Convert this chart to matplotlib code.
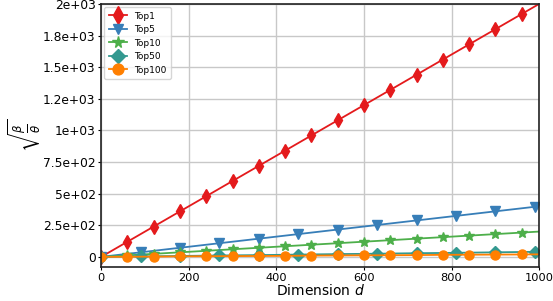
import matplotlib
matplotlib.use('Agg')
import matplotlib.pyplot as plt
from matplotlib.ticker import FuncFormatter

# values (markers), last point is the line end at d=1000
x60 = [0, 60, 120, 180, 240, 300, 360, 420, 480, 540, 600, 660, 720, 780, 840, 900, 960, 1000]
x90 = [0, 90, 180, 270, 360, 450, 540, 630, 720, 810, 900, 990, 1000]

top1 = [0, 120, 240, 360, 480, 600, 720, 840, 960, 1080, 1200, 1320, 1440, 1560, 1680, 1800, 1920, 2000]
top5 = [0, 36, 72, 108, 144, 180, 216, 252, 288, 324, 360, 396, 400]
top10 = [0, 12, 24, 36, 48, 60, 72, 84, 96, 108, 120, 132, 144, 156, 168, 180, 192, 200]
top50 = [0, 4, 7, 11, 14, 18, 22, 25, 29, 32, 36, 40, 40]
top100 = [0, 1, 2, 4, 5, 6, 7, 8, 10, 11, 12, 13, 14, 16, 17, 18, 19, 20]

series = [
    ('Top1', x60, top1, 'd', '#e41a1c', 7.5),
    ('Top5', x90, top5, 'v', '#377eb8', 6.5),
    ('Top10', x60, top10, '*', '#4daf4a', 7),
    ('Top50', x90, top50, 'D', '#339990', 6),
    ('Top100', x60, top100, 'o', '#ff7f00', 6.5),
]

fig = plt.figure(figsize=(5.53, 3.01), dpi=100)
ax = fig.add_axes([0.183, 0.113, 0.792, 0.874])

for name, xs, ys, mk, col, ms in series:
    ax.plot(xs, ys, marker=mk, color=col, markersize=ms, linewidth=1.3,
            markevery=list(range(len(xs) - 1)), label=name)

ax.set_xlim(0, 1000)
ax.set_ylim(-80, 2000)
ax.set_yticks([0, 250, 500, 750, 1000, 1250, 1500, 1750, 2000])
ax.yaxis.set_major_formatter(FuncFormatter(lambda v, p: '{:.2g}'.format(v)))
ax.grid(True, color='#c8c8c8', linewidth=1.0)
ax.set_axisbelow(True)
for s in ax.spines.values():
    s.set_linewidth(1.2)
    s.set_color('#222222')
ax.tick_params(labelsize=8.8, length=2.5, pad=1.5)
ax.tick_params(axis='x', labelsize=8.2)

ax.set_xlabel('Dimension $d$', fontsize=10, labelpad=0)
ax.set_ylabel(r'$\sqrt{\frac{\beta}{\theta}}$', fontsize=12, labelpad=0)
ax.legend(loc='upper left', fontsize=6.5, handlelength=2.0, borderpad=0.5,
          labelspacing=0.5, markerscale=1.2, borderaxespad=0.35, framealpha=0.8)

fig.savefig('out.png', dpi=100)
